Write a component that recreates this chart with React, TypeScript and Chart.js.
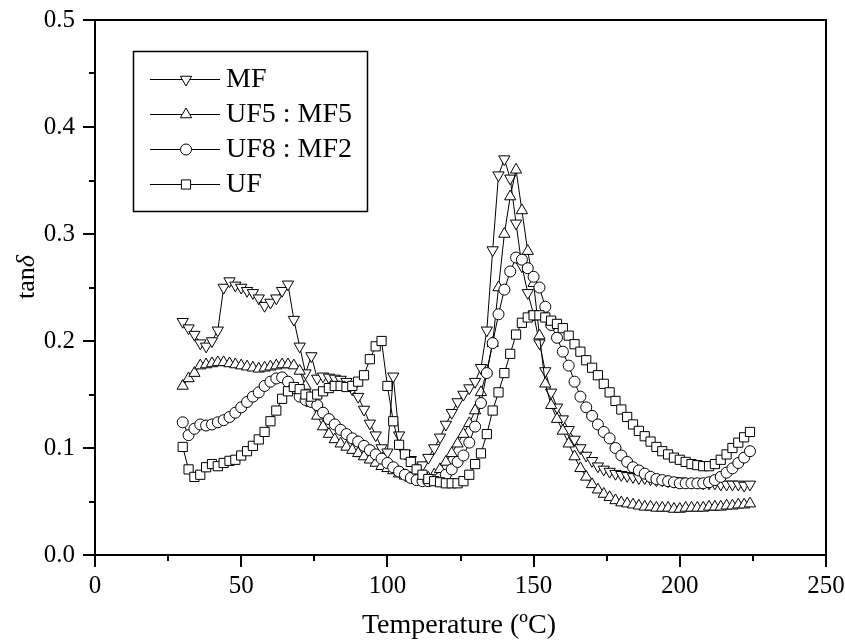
import React, { useEffect, useRef } from "react";
import { Chart, registerables } from "chart.js";

Chart.register(...registerables);

const temps = [
  30, 32, 34, 36, 38, 40, 42, 44, 46, 48,
  50, 52, 54, 56, 58, 60, 62, 64, 66, 68,
  70, 72, 74, 76, 78, 80, 82, 84, 86, 88,
  90, 92, 94, 96, 98, 100, 102, 104, 106, 108,
  110, 112, 114, 116, 118, 120, 122, 124, 126, 128,
  130, 132, 134, 136, 138, 140, 142, 144, 146, 148,
  150, 152, 154, 156, 158, 160, 162, 164, 166, 168,
  170, 172, 174, 176, 178, 180, 182, 184, 186, 188,
  190, 192, 194, 196, 198, 200, 202, 204, 206, 208,
  210, 212, 214, 216, 218, 220, 222, 224,
];

const mfValues = [
  0.218, 0.212, 0.206, 0.198, 0.195, 0.2, 0.21, 0.25, 0.256, 0.252,
  0.25, 0.247, 0.245, 0.24, 0.233, 0.236, 0.24, 0.247, 0.253, 0.22,
  0.195, 0.17, 0.186, 0.165, 0.167, 0.166, 0.165, 0.164, 0.162, 0.155,
  0.148, 0.136, 0.123, 0.112, 0.1, 0.096, 0.167, 0.112, 0.095, 0.089,
  0.082, 0.084, 0.091, 0.1, 0.11, 0.122, 0.133, 0.143, 0.15, 0.156,
  0.162, 0.175, 0.21, 0.285, 0.355, 0.37, 0.352, 0.31, 0.27, 0.245,
  0.225, 0.198, 0.172, 0.152, 0.138, 0.127, 0.117, 0.108, 0.1, 0.093,
  0.088, 0.083, 0.08, 0.078, 0.076, 0.075, 0.074, 0.073, 0.072, 0.072,
  0.071, 0.07, 0.07, 0.069, 0.069, 0.069, 0.068, 0.068, 0.068, 0.067,
  0.067, 0.067, 0.066, 0.066, 0.066, 0.066, 0.065, 0.066,
];

const uf5mf5Values = [
  0.158, 0.165, 0.17, 0.177, 0.178, 0.179, 0.18, 0.18, 0.179, 0.178,
  0.177, 0.176, 0.175, 0.174, 0.175, 0.176, 0.177, 0.178, 0.178, 0.177,
  0.172, 0.158, 0.142, 0.13, 0.12, 0.113, 0.108, 0.104, 0.101, 0.098,
  0.095, 0.092, 0.089, 0.086, 0.083, 0.081, 0.079, 0.076, 0.074, 0.072,
  0.071, 0.071, 0.072, 0.075, 0.08, 0.087, 0.095, 0.104, 0.113, 0.123,
  0.135, 0.152, 0.172, 0.198, 0.25, 0.3, 0.335, 0.36, 0.322, 0.284,
  0.254, 0.205, 0.16, 0.14, 0.127, 0.116, 0.104, 0.092, 0.081, 0.073,
  0.066, 0.061, 0.057, 0.054, 0.051, 0.049, 0.048, 0.047, 0.046, 0.045,
  0.045, 0.044, 0.044, 0.044, 0.043, 0.043, 0.044, 0.044, 0.044, 0.044,
  0.045, 0.045, 0.045, 0.046, 0.046, 0.047, 0.047, 0.048,
];

const uf8mf2Values = [
  0.124, 0.112, 0.118, 0.122, 0.121, 0.122, 0.124, 0.126, 0.129, 0.133,
  0.138, 0.143, 0.148, 0.152, 0.158, 0.162, 0.165, 0.166, 0.162, 0.156,
  0.148, 0.145, 0.143, 0.14, 0.133, 0.127, 0.122, 0.117, 0.113, 0.109,
  0.106, 0.102, 0.098, 0.094, 0.09, 0.086, 0.082, 0.078, 0.075, 0.072,
  0.07, 0.069, 0.069, 0.07, 0.072, 0.075, 0.08, 0.087, 0.093, 0.105,
  0.12, 0.142, 0.17, 0.198, 0.225, 0.248, 0.265, 0.278, 0.276, 0.268,
  0.26, 0.25, 0.232, 0.215, 0.203, 0.19, 0.177, 0.162, 0.148, 0.138,
  0.13, 0.122, 0.115, 0.109, 0.1, 0.093, 0.087, 0.082, 0.079, 0.076,
  0.073, 0.071, 0.07, 0.069, 0.068, 0.067, 0.067, 0.067, 0.067, 0.067,
  0.068, 0.07, 0.073, 0.077, 0.081, 0.086, 0.091, 0.097,
];

const ufValues = [
  0.101, 0.08, 0.073, 0.075, 0.082, 0.085, 0.083, 0.086, 0.088, 0.089,
  0.093, 0.097, 0.102, 0.108, 0.115, 0.125, 0.135, 0.146, 0.153, 0.157,
  0.155, 0.15, 0.148, 0.15, 0.153, 0.156, 0.158, 0.158, 0.157, 0.158,
  0.162, 0.168, 0.183, 0.195, 0.2, 0.158, 0.125, 0.103, 0.094, 0.087,
  0.08, 0.075, 0.071, 0.069, 0.068, 0.067, 0.067, 0.067, 0.069, 0.075,
  0.085, 0.095, 0.113, 0.135, 0.152, 0.17, 0.188, 0.206, 0.217, 0.222,
  0.224, 0.224, 0.222, 0.219, 0.216, 0.212, 0.205, 0.197, 0.19, 0.182,
  0.175, 0.168, 0.16, 0.152, 0.144, 0.136, 0.129, 0.122, 0.116, 0.111,
  0.106, 0.101, 0.097, 0.094, 0.091, 0.089, 0.087, 0.085, 0.084, 0.083,
  0.083, 0.085, 0.089, 0.094, 0.1, 0.105, 0.11, 0.115,
];

const seriesLabels = ["MF", "UF5 : MF5", "UF8 : MF2", "UF"];
const xTickValues = [0, 50, 100, 150, 200, 250];
const yTickValues = [0, 0.1, 0.2, 0.3, 0.4, 0.5];
const xTitle = "Temperature (ºC)";
const yTitleMain = "tan";
const yTitleSymbol = "δ";

const FONT = '"Liberation Serif", "Times New Roman", serif';

type MarkerStyle = { pointStyle: "triangle" | "circle" | "rect"; rotation: number; radius: number };
const markerStyles: MarkerStyle[] = [
  { pointStyle: "triangle", rotation: 180, radius: 6.5 },
  { pointStyle: "triangle", rotation: 0, radius: 6.5 },
  { pointStyle: "circle", rotation: 0, radius: 5.5 },
  { pointStyle: "rect", rotation: 0, radius: 6.5 },
];

function drawMarker(ctx: CanvasRenderingContext2D, st: MarkerStyle, x: number, y: number) {
  ctx.beginPath();
  if (st.pointStyle === "circle") {
    ctx.arc(x, y, st.radius, 0, Math.PI * 2);
  } else if (st.pointStyle === "rect") {
    const s = st.radius * Math.SQRT1_2;
    ctx.rect(x - s, y - s, 2 * s, 2 * s);
  } else {
    let rad = (st.rotation * Math.PI) / 180;
    for (let k = 0; k < 3; k++) {
      const px = x + Math.sin(rad) * st.radius;
      const py = y - Math.cos(rad) * st.radius;
      if (k === 0) ctx.moveTo(px, py);
      else ctx.lineTo(px, py);
      rad += (2 * Math.PI) / 3;
    }
    ctx.closePath();
  }
  ctx.fillStyle = "#fff";
  ctx.fill();
  ctx.strokeStyle = "#000";
  ctx.lineWidth = 1;
  ctx.stroke();
}

const decorPlugin = {
  id: "decor",
  afterDraw(chart: any) {
    const { ctx, chartArea: a } = chart;
    const xs = chart.scales.x;
    const ys = chart.scales.y;
    ctx.save();
    // frame
    ctx.strokeStyle = "#000";
    ctx.lineWidth = 2;
    ctx.strokeRect(a.left, a.top, a.right - a.left, a.bottom - a.top);
    // ticks
    ctx.beginPath();
    xTickValues.forEach((v, i) => {
      const px = Math.round(xs.getPixelForValue(v));
      ctx.moveTo(px, a.bottom);
      ctx.lineTo(px, a.bottom + 12);
      if (i < xTickValues.length - 1) {
        const m = Math.round(xs.getPixelForValue((v + xTickValues[i + 1]) / 2));
        ctx.moveTo(m, a.bottom);
        ctx.lineTo(m, a.bottom + 6);
      }
    });
    yTickValues.forEach((v, i) => {
      const py = Math.round(ys.getPixelForValue(v));
      ctx.moveTo(a.left, py);
      ctx.lineTo(a.left - 12, py);
      if (i < yTickValues.length - 1) {
        const m = Math.round(ys.getPixelForValue((v + yTickValues[i + 1]) / 2));
        ctx.moveTo(a.left, m);
        ctx.lineTo(a.left - 6, m);
      }
    });
    ctx.stroke();

    // legend
    const bx = 133, by = 51, bw = 234, bh = 160;
    ctx.fillStyle = "#fff";
    ctx.fillRect(bx, by, bw, bh);
    ctx.lineWidth = 1.5;
    ctx.strokeStyle = "#000";
    ctx.strokeRect(bx + 0.5, by + 0.5, bw, bh);
    seriesLabels.forEach((lab, i) => {
      const yy = 79 + i * 35;
      ctx.beginPath();
      ctx.lineWidth = 1;
      ctx.moveTo(150, yy + 0.5);
      ctx.lineTo(220, yy + 0.5);
      ctx.stroke();
      drawMarker(ctx, markerStyles[i], 186, yy + 0.5);
      ctx.fillStyle = "#000";
      ctx.font = `28px ${FONT}`;
      ctx.textAlign = "left";
      ctx.textBaseline = "middle";
      ctx.fillText(lab, 226, yy + 1);
    });

    // x title
    ctx.fillStyle = "#000";
    ctx.font = `28px ${FONT}`;
    ctx.textAlign = "center";
    ctx.textBaseline = "alphabetic";
    ctx.fillText(xTitle, 459, 633);

    // y title
    ctx.save();
    ctx.translate(34, 277);
    ctx.rotate(-Math.PI / 2);
    ctx.font = `26px ${FONT}`;
    const w1 = ctx.measureText(yTitleMain).width;
    ctx.font = `italic 26px ${FONT}`;
    const w2 = ctx.measureText(yTitleSymbol).width;
    const start = -(w1 + w2) / 2;
    ctx.textAlign = "left";
    ctx.textBaseline = "alphabetic";
    ctx.font = `26px ${FONT}`;
    ctx.fillText(yTitleMain, start, 0);
    ctx.font = `italic 26px ${FONT}`;
    ctx.fillText(yTitleSymbol, start + w1, 0);
    ctx.restore();

    ctx.restore();
  },
};

export default function App() {
  const ref = useRef<HTMLCanvasElement | null>(null);

  useEffect(() => {
    if (!ref.current) return;
    const valueSets = [mfValues, uf5mf5Values, uf8mf2Values, ufValues];
    const chart = new Chart(ref.current, {
      type: "line",
      data: {
        datasets: valueSets.map((vals, i) => ({
          label: seriesLabels[i],
          data: temps.map((t, j) => ({ x: t, y: vals[j] })),
          borderColor: "#000",
          borderWidth: 1,
          pointStyle: markerStyles[i].pointStyle,
          pointRotation: markerStyles[i].rotation,
          pointRadius: markerStyles[i].radius,
          pointBackgroundColor: "#fff",
          pointBorderColor: "#000",
          pointBorderWidth: 1,
          tension: 0,
          fill: false,
          order: 3 - i,
        })),
      },
      options: {
        responsive: false,
        animation: false,
        events: [],
        layout: { padding: { left: 0, top: 20, right: 19, bottom: 0 } },
        plugins: {
          legend: { display: false },
          tooltip: { enabled: false },
          title: { display: false },
        },
        scales: {
          x: {
            type: "linear",
            min: 0,
            max: 250,
            grid: { display: false, drawTicks: false },
            border: { display: false },
            afterFit: (s: any) => {
              s.height = 85;
              s.paddingLeft = 0;
              s.paddingRight = 0;
            },
            afterBuildTicks: (s: any) => {
              s.ticks = xTickValues.map((v) => ({ value: v }));
            },
            ticks: {
              padding: 16,
              color: "#000",
              font: { family: FONT, size: 25 },
              maxRotation: 0,
              autoSkip: false,
              callback: (v: any) => String(v),
            },
          },
          y: {
            type: "linear",
            min: 0,
            max: 0.5,
            grid: { display: false, drawTicks: false },
            border: { display: false },
            afterFit: (s: any) => {
              s.width = 95;
              s.paddingTop = 0;
              s.paddingBottom = 0;
            },
            afterBuildTicks: (s: any) => {
              s.ticks = yTickValues.map((v) => ({ value: v }));
            },
            ticks: {
              padding: 20,
              color: "#000",
              font: { family: FONT, size: 25 },
              autoSkip: false,
              callback: (v: any) => Number(v).toFixed(1),
            },
          },
        },
      },
      plugins: [decorPlugin],
    });
    return () => chart.destroy();
  }, []);

  return (
    <div style={{ position: "absolute", left: 0, top: 0, width: 845, height: 640, background: "#fff" }}>
      <canvas ref={ref} width={845} height={640} style={{ display: "block" }} />
    </div>
  );
}
